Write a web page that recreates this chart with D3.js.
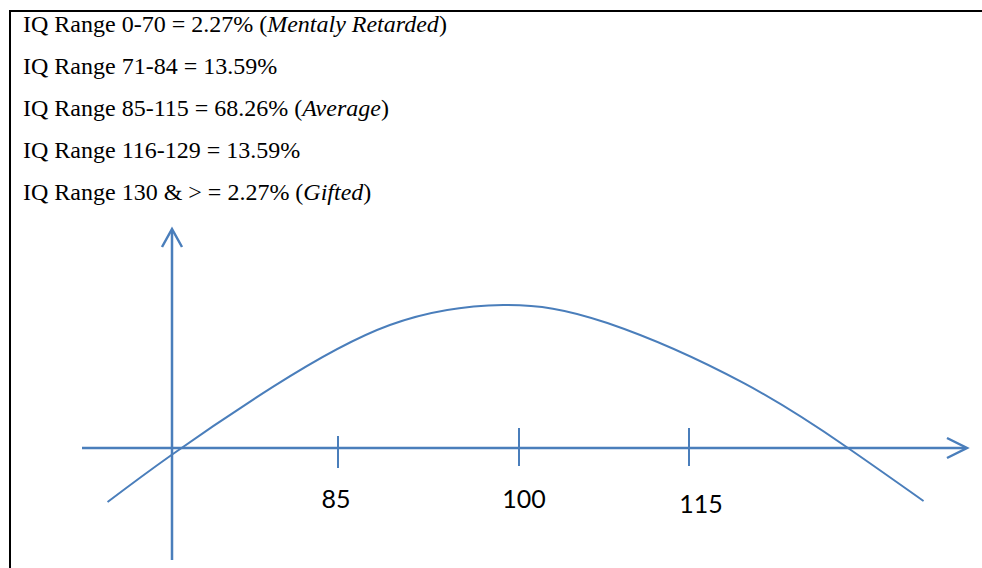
<!DOCTYPE html>
<html>
<head>
<meta charset="utf-8">
<script src="https://cdn.jsdelivr.net/npm/d3@7"></script>
<style>
  html, body { margin: 0; padding: 0; background: #fff; }
  svg { display: block; }
</style>
</head>
<body>
<svg id="chart" width="982" height="568"></svg>
<script>
// ---------------- DATA ----------------
const rangeLines = [
  { text: "IQ Range 0-70 = 2.27% (", italic: "Mentaly Retarded", tail: ")" },
  { text: "IQ Range 71-84 = 13.59%", italic: "", tail: "" },
  { text: "IQ Range 85-115 = 68.26% (", italic: "Average", tail: ")" },
  { text: "IQ Range 116-129 = 13.59%", italic: "", tail: "" },
  { text: "IQ Range 130 & > = 2.27% (", italic: "Gifted", tail: ")" }
];
const tickValues = [85, 100, 115];
const tickLabels = ["85", "100", "115"];
// curve: IQ value and relative height (peak = 100)
const curveIQ = [65.9, 71.2, 79.6, 89.3, 98.7, 107.8, 119.8, 128.9, 135.7];
const curveH  = [-37.8, -4.9, 42.7, 86.0, 100, 87.4, 45.5, 0.7, -37.1];

// ---------------- LAYOUT ----------------
const blue = "#4a7ebb";
const svg = d3.select("#chart");
const x = d3.scaleLinear().domain([85, 100, 115]).range([338, 519, 689]);
const y = d3.scaleLinear().domain([0, 100]).range([448, 305]);
const tickExtent = [[436, 468], [428, 466], [428, 466]];
const labelOffset = [[-2, 508], [5, 508], [12, 513]];
const xAxisPx = [82, 967];
const yAxisX = 172, yAxisPx = [560, 229];

// frame
svg.append("line").attr("x1", 9).attr("x2", 982).attr("y1", 11).attr("y2", 11)
  .attr("stroke", "#000").attr("stroke-width", 2);
svg.append("line").attr("x1", 10).attr("x2", 10).attr("y1", 10).attr("y2", 568)
  .attr("stroke", "#000").attr("stroke-width", 2);

// text lines
const t = svg.append("g").attr("font-family", "'Liberation Serif', 'Times New Roman', serif")
  .attr("font-size", 24).attr("fill", "#000");
rangeLines.forEach((d, i) => {
  const tx = t.append("text").attr("x", 23).attr("y", 31.5 + i * 42.2);
  tx.append("tspan").text(d.text);
  if (d.italic) tx.append("tspan").attr("font-style", "italic").text(d.italic);
  if (d.tail) tx.append("tspan").text(d.tail);
});

// axes
svg.append("line").attr("x1", xAxisPx[0]).attr("x2", xAxisPx[1] - 1)
  .attr("y1", y(0)).attr("y2", y(0)).attr("stroke", blue).attr("stroke-width", 2.5);
svg.append("path").attr("d", `M${xAxisPx[1] - 20},${y(0) - 10} L${xAxisPx[1]},${y(0)} L${xAxisPx[1] - 20},${y(0) + 10}`)
  .attr("fill", "none").attr("stroke", blue).attr("stroke-width", 2.5);
svg.append("line").attr("x1", yAxisX).attr("x2", yAxisX)
  .attr("y1", yAxisPx[0]).attr("y2", yAxisPx[1] + 1).attr("stroke", blue).attr("stroke-width", 2.5);
svg.append("path").attr("d", `M${yAxisX - 10},${yAxisPx[1] + 18} L${yAxisX},${yAxisPx[1]} L${yAxisX + 10},${yAxisPx[1] + 18}`)
  .attr("fill", "none").attr("stroke", blue).attr("stroke-width", 2.5);

// ticks
tickValues.forEach((v, i) => {
  svg.append("line").attr("x1", x(v)).attr("x2", x(v))
    .attr("y1", tickExtent[i][0]).attr("y2", tickExtent[i][1])
    .attr("stroke", blue).attr("stroke-width", 2);
  svg.append("text").attr("x", x(v) + labelOffset[i][0]).attr("y", labelOffset[i][1])
    .attr("text-anchor", "middle").attr("font-family", "Lato, 'Open Sans', sans-serif")
    .attr("font-size", 25).attr("fill", "#000").text(tickLabels[i]);
});

// curve
const pts = curveIQ.map((v, i) => [v, curveH[i]]);
const line = d3.line().x(d => x(d[0])).y(d => y(d[1])).curve(d3.curveNatural);
svg.append("path").datum(pts).attr("d", line)
  .attr("fill", "none").attr("stroke", blue).attr("stroke-width", 2);
</script>
</body>
</html>
